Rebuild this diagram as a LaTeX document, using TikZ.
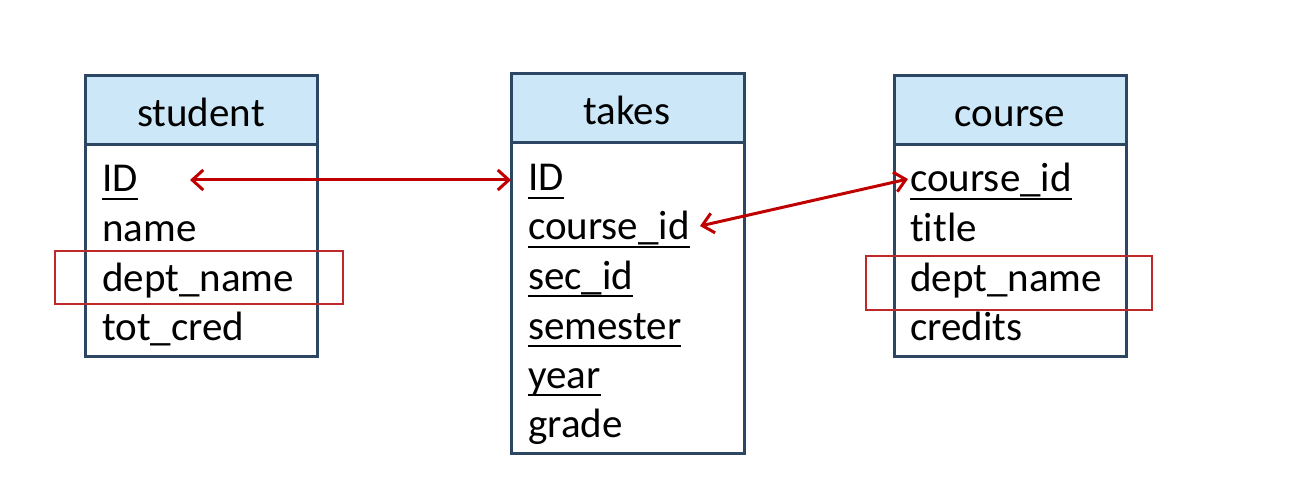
\documentclass[tikz,border=0pt]{standalone}
\usepackage{fontspec}
\setmainfont{Carlito}[Ligatures=NoCommon]
\usetikzlibrary{arrows.meta}
\definecolor{hdr}{RGB}{204,232,248}
\definecolor{brd}{RGB}{45,70,100}
\definecolor{rd}{RGB}{192,0,0}
\definecolor{rbox}{RGB}{190,40,40}
\newcommand{\ul}[1]{\setbox0\hbox{#1}\rlap{\rule[-8pt]{\wd0}{2pt}}\box0}
\begin{document}
\begin{tikzpicture}[x=1pt,y=-1pt,
  hdrbox/.style={draw=brd,line width=3pt,fill=hdr},
  bodybox/.style={draw=brd,line width=3pt,fill=white},
  title/.style={font=\fontsize{41}{46}\selectfont,anchor=base,inner sep=0pt},
  attr/.style={font=\fontsize{41}{46}\selectfont,anchor=base west,inner sep=0pt},
  hl/.style={draw=rbox,line width=1.5pt},
  rel/.style={draw=rd,line width=3pt,{Straight Barb[length=11pt,width=20pt]}-{Straight Barb[length=11pt,width=20pt]}}]
\useasboundingbox (0,0) rectangle (1300,478);
% student
\path[bodybox] (85,145) rectangle (317,356);
\path[hdrbox] (85,76) rectangle (317,145);
\node[title] (sT) at (201,127) {student};
\node[attr] (sID) at (102,192) {\ul{ID}};
\node[attr] (sName) at (102,242) {name};
\node[attr] (sDept) at (102,291) {dept\_name};
\node[attr] (sTot) at (102,340) {tot\_cred};
% takes
\path[bodybox] (511,143) rectangle (744,453);
\path[hdrbox] (511,74) rectangle (744,143);
\node[title] (tT) at (627,125) {takes};
\node[attr] (tID) at (528,191) {\ul{ID}};
\node[attr] (tCid) at (528,240) {\ul{course\_id}};
\node[attr] (tSec) at (528,289) {\ul{sec\_id}};
\node[attr] (tSem) at (528,339) {\ul{semester}};
\node[attr] (tYear) at (528,388) {\ul{year}};
\node[attr] (tGrade) at (528,437) {grade};
% course
\path[bodybox] (894,145) rectangle (1126,356);
\path[hdrbox] (894,76) rectangle (1126,145);
\node[title] (cT) at (1010,127) {course};
\node[attr] (cCid) at (910,192) {\ul{course\_id}};
\node[attr] (cTitle) at (910,242) {title};
\node[attr] (cDept) at (910,291) {dept\_name};
\node[attr] (cCred) at (910,340) {credits};
% highlight boxes
\draw[hl] (55,251) rectangle (343,304);
\draw[hl] (866,256) rectangle (1152,310);
% connectors
\coordinate (a1) at (190,180);
\coordinate (a2) at (511,180);
\coordinate (b1) at (700,226);
\coordinate (b2) at (908,179);
\draw[rel] (a1) -- (a2);
\draw[rel] (b1) -- (b2);
\end{tikzpicture}
\end{document}
